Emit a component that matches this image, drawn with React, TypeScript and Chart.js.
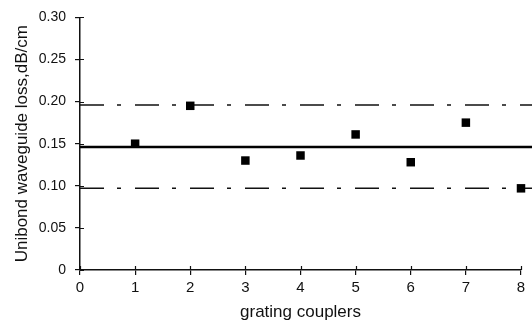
import React, { useEffect, useRef } from "react";
import { Chart, registerables } from "chart.js";

Chart.register(...registerables);

const couplers = [1, 2, 3, 4, 5, 6, 7, 8];
const loss = [0.15, 0.195, 0.13, 0.136, 0.161, 0.128, 0.175, 0.097];
const meanLoss = 0.146;
const upperBound = 0.196;
const lowerBound = 0.097;
const lineSpan = [0, 8.25];
const xTicks = [0, 1, 2, 3, 4, 5, 6, 7, 8];
const yTicks = [0, 0.05, 0.1, 0.15, 0.2, 0.25, 0.3];

const FONT = "'Liberation Sans', Arial, sans-serif";

const crossTicks = {
  id: "crossTicks",
  afterDraw(chart: any) {
    const { ctx, chartArea, scales } = chart;
    ctx.save();
    ctx.strokeStyle = "#111";
    ctx.lineWidth = 1.2;
    ctx.beginPath();
    for (const v of xTicks) {
      const px = Math.round(scales.x.getPixelForValue(v)) + 0.5;
      ctx.moveTo(px, chartArea.bottom - 4);
      ctx.lineTo(px, chartArea.bottom);
    }
    for (const v of yTicks) {
      const py = Math.round(scales.y.getPixelForValue(v)) + 0.5;
      ctx.moveTo(chartArea.left, py);
      ctx.lineTo(chartArea.left + 4, py);
    }
    ctx.stroke();
    ctx.restore();
  },
};

export default function App() {
  const ref = useRef<HTMLCanvasElement | null>(null);
  useEffect(() => {
    document.body.style.margin = "0";
    const canvas = ref.current!;
    const hLine = (v: number) => lineSpan.map((x) => ({ x, y: v }));
    const chart = new Chart(canvas, {
      type: "scatter",
      data: {
        datasets: [
          {
            label: "loss",
            data: couplers.map((x, i) => ({ x, y: loss[i] })),
            pointStyle: "rect",
            pointRadius: 6,
            pointBackgroundColor: "#000",
            pointBorderColor: "#000",
            pointBorderWidth: 0,
            showLine: false,
            clip: false,
          } as any,
          {
            label: "mean",
            data: hLine(meanLoss),
            showLine: true,
            borderColor: "#000",
            borderWidth: 2.5,
            pointRadius: 0,
            clip: false,
          } as any,
          {
            label: "upper",
            data: hLine(upperBound),
            showLine: true,
            borderColor: "#111",
            borderWidth: 1.5,
            borderDash: [24, 13, 4, 14],
            pointRadius: 0,
            clip: false,
          } as any,
          {
            label: "lower",
            data: hLine(lowerBound),
            showLine: true,
            borderColor: "#111",
            borderWidth: 1.5,
            borderDash: [24, 13, 4, 14],
            pointRadius: 0,
            clip: false,
          } as any,
        ],
      },
      options: {
        animation: false,
        responsive: false,
        layout: { padding: { top: 16, right: 11, left: 0, bottom: 0 } },
        plugins: { legend: { display: false }, tooltip: { enabled: false } },
        scales: {
          x: {
            type: "linear",
            min: 0,
            max: 8,
            afterBuildTicks: (s: any) => {
              s.ticks = xTicks.map((v) => ({ value: v }));
            },
            afterFit: (s: any) => {
              s.height = 55;
            },
            grid: { display: true, drawOnChartArea: false, drawTicks: true, tickLength: 5, color: "#111", lineWidth: 1.2 },
            border: { display: true, color: "#111", width: 1.5 },
            ticks: { color: "#111", font: { family: FONT, size: 15 }, padding: 4, maxRotation: 0 },
            title: { display: true, text: "grating couplers", color: "#111", font: { family: FONT, size: 17 }, padding: { top: 0, bottom: 2 } },
          },
          y: {
            type: "linear",
            min: 0,
            max: 0.3,
            afterBuildTicks: (s: any) => {
              s.ticks = yTicks.map((v) => ({ value: v }));
            },
            afterFit: (s: any) => {
              s.width = 80;
            },
            grid: { display: true, drawOnChartArea: false, drawTicks: true, tickLength: 5, color: "#111", lineWidth: 1.2 },
            border: { display: true, color: "#111", width: 1.5 },
            ticks: {
              color: "#111",
              font: { family: FONT, size: 14 },
              padding: 9,
              callback: (v: any) => (v === 0 ? "0" : Number(v).toFixed(2)),
            },
            title: { display: true, text: "Unibond waveguide loss,dB/cm", color: "#111", font: { family: FONT, size: 17 }, padding: { top: 12, bottom: 0 } },
          },
        },
      },
      plugins: [crossTicks],
    });
    return () => chart.destroy();
  }, []);
  return <canvas ref={ref} width={532} height={325} style={{ display: "block" }} />;
}
